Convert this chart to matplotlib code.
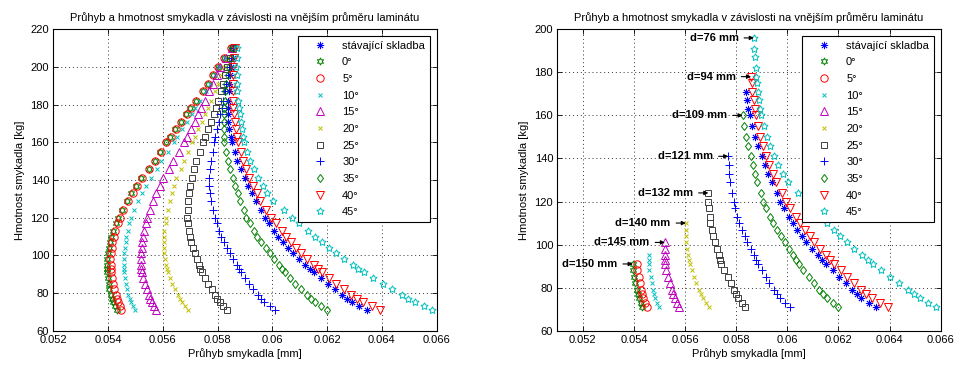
import numpy as np
import matplotlib
matplotlib.use("Agg")
import matplotlib.pyplot as plt

plt.rcParams['font.family'] = ['Liberation Sans', 'DejaVu Sans']

# hmotnost smykadla [kg] (spolecna pro vsechny rady)
hmotnost = [210, 205, 200, 196, 191, 187, 182, 178, 175, 171, 167, 163, 160, 155, 150,
            146, 141, 137, 133, 129, 124, 120, 117, 113, 110, 107, 104, 101, 98, 95,
            93, 91, 88, 85, 82, 79, 77, 75, 73, 71]

# pruhyb smykadla v jednotkach 1e-5 mm
pruhyb_stavajici = [5860, 5855, 5850, 5847, 5843, 5841, 5839, 5838, 5838, 5838, 5842, 5848, 5852, 5862, 5872,
                    5884, 5899, 5912, 5925, 5939, 5958, 5973, 5988, 6007, 6022, 6039, 6057, 6074, 6096, 6120,
                    6136, 6152, 6177, 6203, 6228, 6254, 6272, 6290, 6318, 6347]
pruhyb_0 = [5850, 5825, 5800, 5784, 5764, 5745, 5720, 5700, 5685, 5665, 5645, 5625, 5610, 5590, 5570,
            5548, 5520, 5502, 5485, 5468, 5450, 5435, 5428, 5419, 5412, 5408, 5404, 5399, 5397, 5396,
            5396, 5395, 5398, 5402, 5405, 5410, 5414, 5418, 5426, 5433]
pruhyb_5 = [5850, 5825, 5800, 5784, 5764, 5746, 5722, 5702, 5688, 5668, 5648, 5628, 5613, 5592, 5572,
            5551, 5525, 5507, 5491, 5474, 5456, 5442, 5435, 5427, 5420, 5416, 5413, 5409, 5408, 5409,
            5409, 5410, 5413, 5418, 5423, 5428, 5433, 5437, 5443, 5449]
pruhyb_10 = [5852, 5828, 5805, 5790, 5772, 5756, 5736, 5719, 5706, 5688, 5670, 5653, 5640, 5618, 5595,
             5578, 5556, 5540, 5524, 5509, 5495, 5483, 5478, 5471, 5466, 5464, 5461, 5459, 5458, 5458,
             5457, 5457, 5460, 5465, 5469, 5474, 5479, 5484, 5492, 5499]
pruhyb_15 = [5852, 5831, 5810, 5798, 5783, 5770, 5754, 5741, 5730, 5716, 5702, 5688, 5677, 5658, 5638,
             5622, 5602, 5589, 5576, 5565, 5552, 5542, 5538, 5532, 5527, 5525, 5523, 5521, 5521, 5522,
             5522, 5523, 5527, 5534, 5541, 5548, 5554, 5560, 5568, 5575]
pruhyb_20 = [5853, 5838, 5822, 5812, 5800, 5790, 5776, 5764, 5755, 5743, 5730, 5718, 5708, 5692, 5677,
             5665, 5649, 5640, 5633, 5626, 5619, 5613, 5610, 5606, 5603, 5603, 5603, 5604, 5607, 5612,
             5615, 5618, 5626, 5635, 5644, 5654, 5662, 5670, 5681, 5692]
pruhyb_25 = [5855, 5844, 5833, 5827, 5820, 5812, 5802, 5793, 5786, 5776, 5765, 5753, 5745, 5734, 5722,
             5714, 5705, 5700, 5695, 5692, 5691, 5690, 5692, 5696, 5698, 5704, 5710, 5716, 5723, 5732,
             5737, 5742, 5753, 5766, 5778, 5790, 5799, 5808, 5821, 5834]
pruhyb_30 = [5855, 5848, 5842, 5837, 5831, 5826, 5820, 5815, 5810, 5804, 5798, 5792, 5788, 5782, 5776,
             5773, 5769, 5770, 5773, 5777, 5784, 5790, 5797, 5805, 5812, 5823, 5834, 5844, 5856, 5869,
             5877, 5886, 5900, 5915, 5930, 5946, 5958, 5970, 5990, 6010]
pruhyb_35 = [5858, 5850, 5842, 5837, 5831, 5828, 5826, 5824, 5824, 5822, 5823, 5824, 5825, 5832, 5838,
             5846, 5856, 5865, 5873, 5883, 5895, 5905, 5917, 5933, 5945, 5960, 5975, 5990, 6006, 6023,
             6034, 6045, 6063, 6084, 6104, 6125, 6140, 6155, 6177, 6198]
pruhyb_40 = [5862, 5860, 5858, 5857, 5856, 5856, 5856, 5858, 5860, 5863, 5868, 5872, 5876, 5885, 5893,
             5903, 5916, 5928, 5942, 5956, 5978, 5995, 6012, 6034, 6050, 6069, 6087, 6106, 6128, 6151,
             6167, 6182, 6208, 6234, 6260, 6288, 6309, 6330, 6362, 6393]
pruhyb_45 = [5870, 5869, 5868, 5869, 5870, 5872, 5876, 5879, 5882, 5885, 5890, 5894, 5898, 5909, 5920,
             5933, 5949, 5965, 5982, 6003, 6041, 6072, 6097, 6130, 6155, 6181, 6205, 6232, 6261, 6293,
             6314, 6335, 6368, 6403, 6437, 6474, 6497, 6520, 6552, 6583]

popisky = ['stávající skladba', '0°', '5°', '10°', '15°', '20°', '25°', '30°', '35°', '40°', '45°']

# horni mez hmotnosti pro pravy graf (pripustne prumery)
horni_mez = [171, 91, 91, 95, 101, 110, 124, 141, 160, 178, 196]

# popisky prumeru a rada, na kterou ukazuji
prumer_text = ['d=76 mm', 'd=94 mm', 'd=109 mm', 'd=121 mm', 'd=132 mm', 'd=140 mm', 'd=145 mm', 'd=150 mm']
prumer_rada = [10, 9, 8, 7, 6, 5, 4, 1]

rady = [pruhyb_stavajici, pruhyb_0, pruhyb_5, pruhyb_10, pruhyb_15, pruhyb_20,
        pruhyb_25, pruhyb_30, pruhyb_35, pruhyb_40, pruhyb_45]

# styles (MATLAB default color order)
cB = (0, 0, 1); cG = (0, 0.5, 0); cR = (1, 0, 0); cC = (0, 0.75, 0.75)
cM = (0.75, 0, 0.75); cY = (0.75, 0.75, 0); cK = (0.25, 0.25, 0.25)
styly = [
    dict(marker=(8, 2, 0), color=cB, ms=5.2, mew=0.6),
    dict(marker=(6, 1, 0), color=cG, ms=5.2, mew=0.7),
    dict(marker='o', color=cR, ms=5.3, mew=0.7),
    dict(marker='x', color=cC, ms=3.3, mew=0.7),
    dict(marker='^', color=cM, ms=5.3, mew=0.7),
    dict(marker='x', color=cY, ms=3.3, mew=0.7),
    dict(marker='s', color=cK, ms=4.9, mew=0.7),
    dict(marker='+', color=cB, ms=5.2, mew=0.7),
    dict(marker='d', color=cG, ms=4.3, mew=0.7),
    dict(marker='v', color=cR, ms=5.3, mew=0.7),
    dict(marker=(5, 1, 0), color=cC, ms=5.4, mew=0.7),
]

m_arr = np.array(hmotnost, dtype=float)
X = [np.array(r, dtype=float) * 1e-5 for r in rady]

W, H = 955, 365
fig = plt.figure(figsize=(W / 100, H / 100), dpi=100)
ax1 = fig.add_axes([53.3 / W, (H - 330.7) / H, 383.4 / W, 301.4 / H])
ax2 = fig.add_axes([557.3 / W, (H - 330.7) / H, 383.4 / W, 301.4 / H])

titul = 'Průhyb a hmotnost smykadla v závislosti na vnějším průměru laminátu'


def draw(ax, limited):
    for i, (x, st) in enumerate(zip(X, styly)):
        if limited:
            mask = m_arr <= horni_mez[i]
        else:
            mask = np.ones_like(m_arr, dtype=bool)
        ax.plot(x[mask], m_arr[mask], linestyle='none', marker=st['marker'],
                markersize=st['ms'], markerfacecolor='none', markeredgecolor=st['color'],
                markeredgewidth=st['mew'], label=popisky[i])
    ax.grid(True, color='0.2', linestyle=(0, (1, 3)), linewidth=0.7)
    ax.set_axisbelow(True)
    ax.tick_params(direction='in', top=True, right=True, length=3.5, width=0.6,
                   labelsize=8, pad=3, colors='k')
    for s in ax.spines.values():
        s.set_linewidth(0.8)
        s.set_color('k')
    ax.set_title(titul, fontsize=8, pad=6)
    ax.set_xlabel('Průhyb smykadla [mm]', fontsize=8, labelpad=2)
    ax.set_ylabel('Hmotnost smykadla [kg]', fontsize=8, labelpad=4)
    leg = ax.legend(loc='upper right', bbox_to_anchor=(0.9825, 0.9788), borderaxespad=0,
                    fontsize=8, frameon=True, fancybox=False, framealpha=1, edgecolor='k',
                    handlelength=3.0, handletextpad=0.5, borderpad=0.45, labelspacing=0.6,
                    numpoints=1)
    leg.get_frame().set_linewidth(0.8)


draw(ax1, False)
ax1.set_xlim(0.052, 0.066)
ax1.set_ylim(60, 220)
ax1.set_xticks(np.arange(0.052, 0.0661, 0.002))
ax1.set_xticklabels(['0.052', '0.054', '0.056', '0.058', '0.06', '0.062', '0.064', '0.066'])
ax1.set_yticks(np.arange(60, 221, 20))

draw(ax2, True)
ax2.set_xlim(0.051, 0.066)
ax2.set_ylim(60, 200)
ax2.set_xticks(np.arange(0.052, 0.0661, 0.002))
ax2.set_xticklabels(['0.052', '0.054', '0.056', '0.058', '0.06', '0.062', '0.064', '0.066'])
ax2.set_yticks(np.arange(60, 201, 20))

for txt, idx in zip(prumer_text, prumer_rada):
    mask = m_arr <= horni_mez[idx]
    xt = X[idx][mask][0]
    yt = m_arr[mask][0]
    ax2.annotate(txt, xy=(xt, yt), xytext=(-11, 0), textcoords='offset points',
                 ha='right', va='center', fontsize=8, fontweight='bold', zorder=6,
                 arrowprops=dict(arrowstyle='-|>', color='k', lw=0.8, shrinkA=2, shrinkB=0,
                                 mutation_scale=6))

fig.savefig('out.png', dpi=100)
